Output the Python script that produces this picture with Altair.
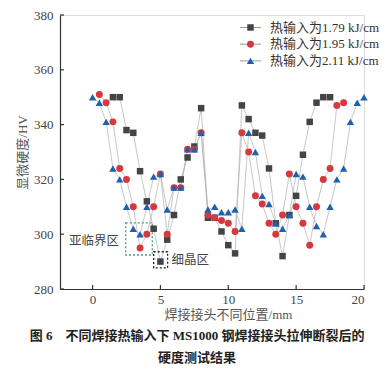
import altair as alt
import pandas as pd

# ---- data ----
series_names = ["热输入为1.79 kJ/cm", "热输入为1.95 kJ/cm", "热输入为2.11 kJ/cm"]
legend_keys = ["k1", "k2", "k3"]

pos_179 = [1.5, 2, 2.5, 3, 3.5, 4, 4.5, 5, 5.5, 6, 6.5, 7, 7.5, 8, 8.5, 9, 9.5, 10,
           10.5, 11, 11.5, 12, 12.5, 13, 13.5, 14, 14.5, 15, 15.5, 16, 16.5, 17, 17.5]
hv_179 = [350, 350, 338, 337, 323, 312, 302, 290, 298, 307, 320, 328, 332, 346, 306, 306, 301, 296,
          293, 347, 342, 337, 336, 324, 304, 292, 307, 314, 329, 341, 348, 350, 350]

pos_195 = [0.5, 1, 1.5, 2, 2.5, 3, 3.5, 4, 4.5, 5, 5.5, 6, 6.5, 7, 7.5, 8, 8.5, 9, 9.5, 10,
           10.5, 11, 11.5, 12, 12.5, 13, 13.5, 14, 14.5, 15, 15.5, 16, 16.5, 17, 17.5, 18, 18.5]
hv_195 = [351, 348, 341, 324, 320, 310, 295, 300, 310, 322, 300, 317, 317, 331, 331, 337, 307, 306, 305, 304,
          301, 337, 330, 314, 311, 304, 300, 307, 322, 310, 304, 296, 310, 320, 324, 347, 348]

pos_211 = [0, 0.5, 1, 1.5, 2, 2.5, 3, 3.5, 4, 4.5, 5, 5.5, 6, 6.5, 7, 7.5, 8, 8.5, 9, 9.5, 10,
           10.5, 11, 11.5, 12, 12.5, 13, 13.5, 14, 14.5, 15, 15.5, 16, 16.5, 17, 17.5, 18, 18.5, 19, 19.5, 20]
hv_211 = [350, 348, 341, 324, 320, 310, 302, 300, 310, 321, 322, 309, 317, 317, 331, 331, 337, 309, 310, 308, 308,
          309, 302, 337, 330, 314, 311, 304, 302, 307, 322, 321, 310, 303, 300, 310, 320, 324, 341, 348, 350]

x_ticks = [0, 5, 10, 15, 20]
y_ticks = [280, 300, 320, 340, 360, 380]

# annotation regions (data coordinates)
box_labels = ["亚临界区", "细晶区"]
box_x1 = [2.44, 4.5]
box_x2 = [4.4, 5.53]
box_y1 = [292.4, 287.7]
box_y2 = [304.1, 293.6]
text_x = [0.1, 7.2]
text_y = [297.6, 290.5]

colors = ["#444444", "#d5383e", "#1f61ad"]
shapes = ["square", "circle", "triangle-up"]
sizes = [42, 55, 62]

rows = []
for name, key, xs, ys in zip(series_names, legend_keys, [pos_179, pos_195, pos_211], [hv_179, hv_195, hv_211]):
    for i, (a, b) in enumerate(zip(xs, ys)):
        rows.append({"series": name, "lkey": key, "pos": a, "hv": b, "idx": i})
df = pd.DataFrame(rows)

boxes = pd.DataFrame({"label": box_labels, "x1": box_x1, "x2": box_x2, "y1": box_y1, "y2": box_y2,
                      "tx": text_x, "ty": text_y})
xt = pd.DataFrame({"t": x_ticks})
yt = pd.DataFrame({"t": y_ticks})

SERIF = "Liberation Serif, Noto Sans CJK SC"
W, H = 304, 274
TICK = 4
LEG_X, LEG_Y = 184, 6
LEG_COMMON = dict(title=None, orient="none", legendX=LEG_X, legendY=LEG_Y,
                  labelFont=SERIF, labelFontSize=13, symbolSize=36, labelOffset=13, rowPadding=2.7)

x_scale = alt.Scale(domain=[-2.4, 20], nice=False, zero=False)
y_scale = alt.Scale(domain=[280, 380], nice=False, zero=False)

lines = alt.Chart(df).mark_line(color="#b3b3b3", strokeWidth=0.8).encode(
    x=alt.X("pos:Q", scale=x_scale,
            axis=alt.Axis(values=x_ticks, title="焊接接头不同位置/mm", ticks=False, grid=False,
                          labelFont=SERIF, labelFontSize=13, labelColor="#444", labelPadding=4,
                          titleFont=SERIF, titleFontSize=13, titleColor="#555", titleFontWeight="normal",
                          titleX=168, titleY=29, titleBaseline="alphabetic",
                          domainColor="#333", domainWidth=1.2)),
    y=alt.Y("hv:Q", scale=y_scale,
            axis=alt.Axis(values=y_ticks, title="显微硬度/HV", ticks=False, grid=False,
                          labelFont=SERIF, labelFontSize=13, labelColor="#444", labelPadding=7,
                          titleFont=SERIF, titleFontSize=13, titleColor="#555", titleFontWeight="normal",
                          titlePadding=4, domainColor="#333", domainWidth=1.2)),
    detail="series:N",
    order="idx:Q",
    # legend of line stubs only (empty labels), overlaid under the marker legend
    strokeDash=alt.StrokeDash("lkey:N",
                              scale=alt.Scale(domain=legend_keys, range=[[1, 0], [1, 0], [1, 0]]),
                              legend=alt.Legend(symbolType="M-3.5,0H3.5", symbolStrokeColor="#9a9a9a",
                                                symbolStrokeWidth=1, labelExpr="''", **LEG_COMMON)),
)

# inward ticks drawn from the tick lists
x_tick_marks = alt.Chart(xt).mark_rule(color="#333", strokeWidth=1.2).encode(
    x=alt.X("t:Q", scale=x_scale), y=alt.value(H), y2=alt.value(H - TICK))
y_tick_marks = alt.Chart(yt).mark_rule(color="#333", strokeWidth=1.2).encode(
    y=alt.Y("t:Q", scale=y_scale), x=alt.value(0), x2=alt.value(TICK))

points = alt.Chart(df).mark_point(filled=True, opacity=1).encode(
    x=alt.X("pos:Q", scale=x_scale),
    y=alt.Y("hv:Q", scale=y_scale),
    color=alt.Color("series:N", scale=alt.Scale(domain=series_names, range=colors),
                    legend=alt.Legend(labelColor="#333", symbolStrokeWidth=0, **LEG_COMMON)),
    shape=alt.Shape("series:N", scale=alt.Scale(domain=series_names, range=shapes)),
    size=alt.Size("series:N", scale=alt.Scale(domain=series_names, range=sizes), legend=None),
)

rects = alt.Chart(boxes).mark_rect(fill="transparent", strokeDash=[2, 2], strokeWidth=1.3).encode(
    x="x1:Q", x2="x2:Q", y="y1:Q", y2="y2:Q",
    stroke=alt.Stroke("label:N", scale=alt.Scale(domain=box_labels, range=["#4a9a88", "#222222"]), legend=None),
)

texts = alt.Chart(boxes).mark_text(font=SERIF, fontSize=12.5, color="#444", align="center",
                                   baseline="middle").encode(
    x="tx:Q", y="ty:Q", text="label:N")

title_lines = ["图 6\u3000不同焊接热输入下 MS1000 钢焊接接头拉伸断裂后的", "硬度测试结果"]

chart = alt.layer(lines, x_tick_marks, y_tick_marks, rects, points, texts).properties(
    width=W, height=H,
    autosize=alt.AutoSizeParams(type="none"),
    padding={"left": 52, "top": 7, "right": 17, "bottom": 75},
    title=alt.TitleParams(text=title_lines, orient="bottom", anchor="middle", frame="group",
                          font=SERIF, fontSize=13, fontWeight="bold", color="#222",
                          lineHeight=22, offset=9, dx=-15),
).configure_view(stroke=None).configure(background="white")

chart.save("out.html", embed_options={"renderer": "svg", "actions": False})
